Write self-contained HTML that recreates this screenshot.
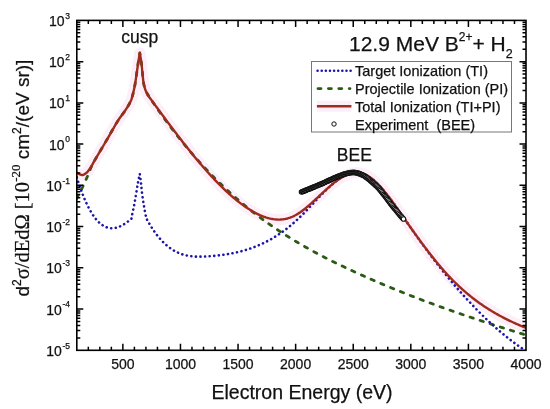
<!DOCTYPE html>
<html><head><meta charset="utf-8"><style>
html,body{margin:0;padding:0;background:#fff;}
body{width:550px;height:409px;overflow:hidden;}
svg{display:block;font-family:"Liberation Sans",sans-serif;will-change:transform;}
text{stroke:#111;stroke-width:0.25px;}
.tl text{font-size:14px;fill:#111;}
.tl .sup{font-size:8.5px;}
</style></head><body>
<svg width="550" height="409" viewBox="0 0 550 409">
<defs><clipPath id="pc"><rect x="76.8" y="20.4" width="449.2" height="329.90000000000003"/></clipPath></defs>
<g clip-path="url(#pc)" fill="none" stroke-linejoin="round">
<path d="M76.80 172.30 C77.08 172.55 77.80 173.37 78.50 173.80 C79.20 174.23 80.17 174.73 81.00 174.90 C81.83 175.07 82.67 175.07 83.50 174.80 C84.33 174.53 85.25 173.88 86.00 173.30 C86.75 172.72 87.17 172.35 88.00 171.30 C88.83 170.25 90.00 168.62 91.00 167.00 C92.00 165.38 92.75 163.80 94.00 161.60 C95.25 159.40 96.92 156.48 98.50 153.80 C100.08 151.12 101.92 148.17 103.50 145.50 C105.08 142.83 106.47 140.45 108.00 137.80 C109.53 135.15 111.03 132.47 112.70 129.60 C114.37 126.73 116.12 123.50 118.00 120.60 C119.88 117.70 122.25 114.75 124.00 112.20 C125.75 109.65 127.28 107.33 128.50 105.30 C129.72 103.27 130.83 100.88 131.30 100.00 L131.30 100.00 C131.62 98.83 132.57 95.67 133.20 93.00 C133.83 90.33 134.53 87.17 135.10 84.00 C135.67 80.83 136.10 77.42 136.60 74.00 C137.10 70.58 137.57 67.02 138.10 63.50 C138.63 59.98 139.52 54.67 139.80 52.90 L139.80 52.90 C140.05 54.43 140.87 58.85 141.30 62.10 C141.73 65.35 142.03 68.98 142.40 72.40 C142.77 75.82 143.03 79.78 143.50 82.60 C143.97 85.42 144.57 87.42 145.20 89.30 C145.83 91.18 146.95 93.13 147.30 93.90 L147.30 94.44 L148.30 95.81 L149.30 97.17 L150.30 98.53 L151.30 99.90 L152.30 101.26 L153.30 102.63 L154.30 103.99 L155.30 105.35 L156.30 106.72 L157.30 108.08 L158.30 109.44 L159.30 110.80 L160.30 112.16 L161.30 113.51 L162.30 114.87 L163.30 116.22 L164.30 117.57 L165.30 118.92 L166.30 120.27 L167.30 121.61 L168.30 122.95 L169.30 124.29 L170.30 125.63 L171.30 126.96 L172.30 128.29 L173.30 129.62 L174.30 130.94 L175.30 132.26 L176.30 133.58 L177.30 134.89 L178.30 136.20 L179.30 137.50 L180.30 138.80 L181.30 140.10 L182.30 141.39 L183.30 142.68 L184.30 143.96 L185.30 145.23 L186.30 146.50 L187.30 147.77 L188.30 149.03 L189.30 150.28 L190.30 151.53 L191.30 152.77 L192.30 154.01 L193.30 155.23 L194.30 156.46 L195.30 157.67 L196.30 158.88 L197.30 160.09 L198.30 161.28 L199.30 162.47 L200.30 163.65 L201.30 164.82 L202.30 165.99 L203.30 167.15 L204.30 168.30 L205.30 169.44 L206.30 170.57 L207.30 171.70 L208.30 172.81 L209.30 173.92 L210.30 175.02 L211.30 176.11 L212.30 177.19 L213.30 178.26 L214.30 179.32 L215.30 180.38 L216.30 181.42 L217.30 182.45 L218.30 183.47 L219.30 184.49 L220.30 185.49 L221.30 186.48 L222.30 187.46 L223.30 188.43 L224.30 189.39 L225.30 190.34 L226.30 191.27 L227.30 192.20 L228.30 193.11 L229.30 194.01 L230.30 194.90 L231.30 195.78 L232.30 196.64 L233.30 197.50 L234.30 198.34 L235.30 199.16 L236.30 199.98 L237.30 200.78 L238.30 201.57 L239.30 202.35 L240.30 203.11 L241.30 203.86 L242.30 204.59 L243.30 205.31 L244.30 206.02 L245.30 206.71 L246.30 207.39 L247.30 208.06 L248.30 208.71 L249.30 209.34 L250.30 209.96 L251.30 210.57 L252.30 211.16 L253.30 211.73 L254.30 212.29 L255.30 212.83 L256.30 213.36 L257.30 213.86 L258.30 214.35 L259.30 214.82 L260.30 215.27 L261.30 215.71 L262.30 216.12 L263.30 216.51 L264.30 216.88 L265.30 217.23 L266.30 217.56 L267.30 217.86 L268.30 218.14 L269.30 218.40 L270.30 218.64 L271.30 218.85 L272.30 219.03 L273.30 219.19 L274.30 219.33 L275.30 219.43 L276.30 219.51 L277.30 219.57 L278.30 219.59 L279.30 219.59 L280.30 219.56 L281.30 219.50 L282.30 219.41 L283.30 219.29 L284.30 219.13 L285.30 218.95 L286.30 218.73 L287.30 218.49 L288.30 218.21 L289.30 217.89 L290.30 217.55 L291.30 217.16 L292.30 216.75 L293.30 216.30 L294.30 215.81 L295.30 215.29 L296.30 214.73 L297.30 214.14 L298.30 213.52 L299.30 212.87 L300.30 212.20 L301.30 211.49 L302.30 210.76 L303.30 210.01 L304.30 209.23 L305.30 208.44 L306.30 207.62 L307.30 206.79 L308.30 205.94 L309.30 205.08 L310.30 204.20 L311.30 203.31 L312.30 202.40 L313.30 201.49 L314.30 200.58 L315.30 199.65 L316.30 198.72 L317.30 197.79 L318.30 196.85 L319.30 195.91 L320.30 194.98 L321.30 194.04 L322.30 193.11 L323.30 192.18 L324.30 191.26 L325.30 190.35 L326.30 189.44 L327.30 188.54 L328.30 187.66 L329.30 186.78 L330.30 185.92 L331.30 185.08 L332.30 184.25 L333.30 183.43 L334.30 182.64 L335.30 181.87 L336.30 181.12 L337.30 180.39 L338.30 179.68 L339.30 179.00 L340.30 178.35 L341.30 177.72 L342.30 177.13 L343.30 176.56 L344.30 176.03 L345.30 175.53 L346.30 175.06 L347.30 174.63 L348.30 174.24 L349.30 173.89 L350.30 173.57 L351.30 173.30 L352.30 173.07 L353.30 172.88 L354.30 172.74 L355.30 172.65 L356.30 172.60 L357.30 172.60 L358.30 172.65 L359.30 172.76 L360.30 172.91 L361.30 173.12 L362.30 173.39 L363.30 173.71 L364.30 174.09 L365.30 174.53 L366.30 175.01 L367.30 175.55 L368.30 176.14 L369.30 176.78 L370.30 177.46 L371.30 178.19 L372.30 178.96 L373.30 179.78 L374.30 180.64 L375.30 181.54 L376.30 182.47 L377.30 183.45 L378.30 184.46 L379.30 185.50 L380.30 186.58 L381.30 187.68 L382.30 188.82 L383.30 189.99 L384.30 191.18 L385.30 192.40 L386.30 193.65 L387.30 194.91 L388.30 196.20 L389.30 197.51 L390.30 198.83 L391.30 200.17 L392.30 201.53 L393.30 202.91 L394.30 204.29 L395.30 205.69 L396.30 207.09 L397.30 208.51 L398.30 209.93 L399.30 211.36 L400.30 212.79 L401.30 214.22 L402.30 215.66 L403.30 217.09 L404.30 218.53 L405.30 219.96 L406.30 221.39 L407.30 222.81 L408.30 224.23 L409.30 225.65 L410.30 227.07 L411.30 228.48 L412.30 229.89 L413.30 231.30 L414.30 232.70 L415.30 234.09 L416.30 235.48 L417.30 236.86 L418.30 238.24 L419.30 239.61 L420.30 240.98 L421.30 242.34 L422.30 243.69 L423.30 245.04 L424.30 246.37 L425.30 247.70 L426.30 249.03 L427.30 250.34 L428.30 251.65 L429.30 252.94 L430.30 254.23 L431.30 255.51 L432.30 256.78 L433.30 258.04 L434.30 259.29 L435.30 260.53 L436.30 261.76 L437.30 262.97 L438.30 264.18 L439.30 265.37 L440.30 266.56 L441.30 267.73 L442.30 268.89 L443.30 270.03 L444.30 271.17 L445.30 272.29 L446.30 273.39 L447.30 274.49 L448.30 275.57 L449.30 276.63 L450.30 277.69 L451.30 278.72 L452.30 279.75 L453.30 280.76 L454.30 281.76 L455.30 282.75 L456.30 283.73 L457.30 284.69 L458.30 285.64 L459.30 286.57 L460.30 287.50 L461.30 288.41 L462.30 289.31 L463.30 290.20 L464.30 291.08 L465.30 291.95 L466.30 292.80 L467.30 293.65 L468.30 294.48 L469.30 295.30 L470.30 296.11 L471.30 296.91 L472.30 297.70 L473.30 298.48 L474.30 299.25 L475.30 300.00 L476.30 300.75 L477.30 301.49 L478.30 302.22 L479.30 302.94 L480.30 303.65 L481.30 304.34 L482.30 305.03 L483.30 305.72 L484.30 306.39 L485.30 307.05 L486.30 307.70 L487.30 308.35 L488.30 308.98 L489.30 309.61 L490.30 310.23 L491.30 310.84 L492.30 311.45 L493.30 312.04 L494.30 312.63 L495.30 313.21 L496.30 313.78 L497.30 314.34 L498.30 314.90 L499.30 315.45 L500.30 315.99 L501.30 316.53 L502.30 317.06 L503.30 317.58 L504.30 318.10 L505.30 318.61 L506.30 319.11 L507.30 319.61 L508.30 320.10 L509.30 320.58 L510.30 321.06 L511.30 321.54 L512.30 322.01 L513.30 322.47 L514.30 322.92 L515.30 323.38 L516.30 323.82 L517.30 324.27 L518.30 324.70 L519.30 325.14 L520.30 325.56 L521.30 325.99 L522.30 326.41 L523.30 326.82 L524.30 327.23 L525.30 327.64 L526.00 327.93" stroke="#fdeff9" stroke-width="11"/>
<path d="M76.80 198.50 C77.17 197.75 78.13 195.70 79.00 194.00 C79.87 192.30 81.00 190.33 82.00 188.30 C83.00 186.27 84.08 183.82 85.00 181.80 C85.92 179.78 86.72 178.07 87.50 176.20 C88.28 174.33 88.98 172.33 89.70 170.60 C90.42 168.87 91.08 167.30 91.80 165.80 C92.52 164.30 92.88 163.60 94.00 161.60 C95.12 159.60 96.92 156.48 98.50 153.80 C100.08 151.12 101.92 148.17 103.50 145.50 C105.08 142.83 106.47 140.45 108.00 137.80 C109.53 135.15 111.03 132.47 112.70 129.60 C114.37 126.73 116.12 123.50 118.00 120.60 C119.88 117.70 122.25 114.75 124.00 112.20 C125.75 109.65 127.28 107.33 128.50 105.30 C129.72 103.27 130.83 100.88 131.30 100.00 L131.30 100.00 C131.62 98.83 132.57 95.67 133.20 93.00 C133.83 90.33 134.53 87.17 135.10 84.00 C135.67 80.83 136.10 77.42 136.60 74.00 C137.10 70.58 137.57 67.02 138.10 63.50 C138.63 59.98 139.52 54.67 139.80 52.90 L139.80 52.90 C140.05 54.43 140.87 58.85 141.30 62.10 C141.73 65.35 142.03 68.98 142.40 72.40 C142.77 75.82 143.03 79.78 143.50 82.60 C143.97 85.42 144.57 87.42 145.20 89.30 C145.83 91.18 146.95 93.13 147.30 93.90 L147.30 93.85 L148.30 95.37 L149.30 96.89 L150.30 98.39 L151.30 99.88 L152.30 101.37 L153.30 102.84 L154.30 104.31 L155.30 105.77 L156.30 107.22 L157.30 108.66 L158.30 110.09 L159.30 111.52 L160.30 112.93 L161.30 114.34 L162.30 115.74 L163.30 117.13 L164.30 118.51 L165.30 119.88 L166.30 121.25 L167.30 122.61 L168.30 123.96 L169.30 125.30 L170.30 126.63 L171.30 127.95 L172.30 129.27 L173.30 130.57 L174.30 131.87 L175.30 133.17 L176.30 134.45 L177.30 135.72 L178.30 136.99 L179.30 138.25 L180.30 139.50 L181.30 140.75 L182.30 141.99 L183.30 143.21 L184.30 144.44 L185.30 145.65 L186.30 146.86 L187.30 148.05 L188.30 149.24 L189.30 150.43 L190.30 151.60 L191.30 152.77 L192.30 153.93 L193.30 155.09 L194.30 156.23 L195.30 157.37 L196.30 158.51 L197.30 159.63 L198.30 160.75 L199.30 161.86 L200.30 162.96 L201.30 164.06 L202.30 165.15 L203.30 166.23 L204.30 167.31 L205.30 168.38 L206.30 169.44 L207.30 170.49 L208.30 171.54 L209.30 172.58 L210.30 173.62 L211.30 174.65 L212.30 175.67 L213.30 176.68 L214.30 177.69 L215.30 178.69 L216.30 179.69 L217.30 180.68 L218.30 181.66 L219.30 182.64 L220.30 183.61 L221.30 184.57 L222.30 185.53 L223.30 186.48 L224.30 187.43 L225.30 188.37 L226.30 189.30 L227.30 190.22 L228.30 191.15 L229.30 192.06 L230.30 192.97 L231.30 193.87 L232.30 194.77 L233.30 195.66 L234.30 196.55 L235.30 197.43 L236.30 198.30 L237.30 199.17 L238.30 200.03 L239.30 200.89 L240.30 201.74 L241.30 202.59 L242.30 203.43 L243.30 204.26 L244.30 205.09 L245.30 205.91 L246.30 206.73 L247.30 207.55 L248.30 208.36 L249.30 209.16 L250.30 209.96 L251.30 210.75 L252.30 211.54 L253.30 212.32 L254.30 213.10 L255.30 213.87 L256.30 214.64 L257.30 215.40 L258.30 216.16 L259.30 216.91 L260.30 217.66 L261.30 218.40 L262.30 219.14 L263.30 219.87 L264.30 220.60 L265.30 221.32 L266.30 222.04 L267.30 222.76 L268.30 223.47 L269.30 224.18 L270.30 224.88 L271.30 225.57 L272.30 226.27 L273.30 226.96 L274.30 227.64 L275.30 228.32 L276.30 229.00 L277.30 229.67 L278.30 230.33 L279.30 231.00 L280.30 231.66 L281.30 232.31 L282.30 232.96 L283.30 233.61 L284.30 234.25 L285.30 234.89 L286.30 235.53 L287.30 236.16 L288.30 236.79 L289.30 237.41 L290.30 238.03 L291.30 238.65 L292.30 239.26 L293.30 239.87 L294.30 240.48 L295.30 241.08 L296.30 241.68 L297.30 242.27 L298.30 242.87 L299.30 243.45 L300.30 244.04 L301.30 244.62 L302.30 245.20 L303.30 245.78 L304.30 246.35 L305.30 246.92 L306.30 247.48 L307.30 248.05 L308.30 248.61 L309.30 249.16 L310.30 249.72 L311.30 250.27 L312.30 250.82 L313.30 251.36 L314.30 251.91 L315.30 252.45 L316.30 252.98 L317.30 253.52 L318.30 254.05 L319.30 254.58 L320.30 255.10 L321.30 255.63 L322.30 256.15 L323.30 256.67 L324.30 257.19 L325.30 257.70 L326.30 258.21 L327.30 258.72 L328.30 259.23 L329.30 259.73 L330.30 260.24 L331.30 260.74 L332.30 261.24 L333.30 261.73 L334.30 262.23 L335.30 262.72 L336.30 263.21 L337.30 263.70 L338.30 264.18 L339.30 264.67 L340.30 265.15 L341.30 265.63 L342.30 266.11 L343.30 266.59 L344.30 267.06 L345.30 267.54 L346.30 268.01 L347.30 268.48 L348.30 268.95 L349.30 269.42 L350.30 269.89 L351.30 270.35 L352.30 270.81 L353.30 271.28 L354.30 271.74 L355.30 272.20 L356.30 272.65 L357.30 273.11 L358.30 273.57 L359.30 274.02 L360.30 274.47 L361.30 274.92 L362.30 275.37 L363.30 275.82 L364.30 276.27 L365.30 276.71 L366.30 277.16 L367.30 277.60 L368.30 278.04 L369.30 278.48 L370.30 278.92 L371.30 279.36 L372.30 279.79 L373.30 280.23 L374.30 280.66 L375.30 281.09 L376.30 281.53 L377.30 281.96 L378.30 282.38 L379.30 282.81 L380.30 283.24 L381.30 283.66 L382.30 284.09 L383.30 284.51 L384.30 284.93 L385.30 285.35 L386.30 285.77 L387.30 286.18 L388.30 286.60 L389.30 287.02 L390.30 287.43 L391.30 287.84 L392.30 288.25 L393.30 288.66 L394.30 289.07 L395.30 289.48 L396.30 289.89 L397.30 290.29 L398.30 290.70 L399.30 291.10 L400.30 291.50 L401.30 291.90 L402.30 292.30 L403.30 292.70 L404.30 293.10 L405.30 293.49 L406.30 293.89 L407.30 294.28 L408.30 294.68 L409.30 295.07 L410.30 295.46 L411.30 295.85 L412.30 296.24 L413.30 296.63 L414.30 297.01 L415.30 297.40 L416.30 297.78 L417.30 298.17 L418.30 298.55 L419.30 298.93 L420.30 299.31 L421.30 299.69 L422.30 300.07 L423.30 300.45 L424.30 300.82 L425.30 301.20 L426.30 301.57 L427.30 301.95 L428.30 302.32 L429.30 302.69 L430.30 303.06 L431.30 303.43 L432.30 303.80 L433.30 304.17 L434.30 304.54 L435.30 304.90 L436.30 305.27 L437.30 305.63 L438.30 306.00 L439.30 306.36 L440.30 306.72 L441.30 307.08 L442.30 307.44 L443.30 307.80 L444.30 308.16 L445.30 308.51 L446.30 308.87 L447.30 309.23 L448.30 309.58 L449.30 309.93 L450.30 310.29 L451.30 310.64 L452.30 310.99 L453.30 311.34 L454.30 311.69 L455.30 312.04 L456.30 312.39 L457.30 312.73 L458.30 313.08 L459.30 313.43 L460.30 313.77 L461.30 314.11 L462.30 314.46 L463.30 314.80 L464.30 315.14 L465.30 315.48 L466.30 315.82 L467.30 316.16 L468.30 316.50 L469.30 316.84 L470.30 317.18 L471.30 317.51 L472.30 317.85 L473.30 318.19 L474.30 318.52 L475.30 318.85 L476.30 319.19 L477.30 319.52 L478.30 319.85 L479.30 320.18 L480.30 320.51 L481.30 320.84 L482.30 321.17 L483.30 321.50 L484.30 321.83 L485.30 322.16 L486.30 322.48 L487.30 322.81 L488.30 323.14 L489.30 323.46 L490.30 323.78 L491.30 324.11 L492.30 324.43 L493.30 324.75 L494.30 325.08 L495.30 325.40 L496.30 325.72 L497.30 326.04 L498.30 326.36 L499.30 326.68 L500.30 327.00 L501.30 327.32 L502.30 327.63 L503.30 327.95 L504.30 328.27 L505.30 328.58 L506.30 328.90 L507.30 329.22 L508.30 329.53 L509.30 329.84 L510.30 330.16 L511.30 330.47 L512.30 330.78 L513.30 331.10 L514.30 331.41 L515.30 331.72 L516.30 332.03 L517.30 332.34 L518.30 332.65 L519.30 332.96 L520.30 333.27 L521.30 333.58 L522.30 333.89 L523.30 334.20 L524.30 334.51 L525.30 334.81 L526.00 335.03" stroke="#2b5a14" stroke-width="2.8" stroke-dasharray="3.4 7.2" stroke-linecap="round"/>
<path d="M76.80 177.38 L77.80 180.56 L78.80 183.63 L79.80 186.57 L80.80 189.40 L81.80 192.11 L82.80 194.71 L83.80 197.20 L84.80 199.57 L85.80 201.84 L86.80 204.00 L87.80 206.05 L88.80 208.00 L89.80 209.85 L90.80 211.60 L91.80 213.25 L92.80 214.80 L93.80 216.26 L94.80 217.63 L95.80 218.90 L96.80 220.08 L97.80 221.18 L98.80 222.19 L99.80 223.11 L100.80 223.96 L101.80 224.72 L102.80 225.40 L103.80 226.00 L104.80 226.53 L105.80 226.98 L106.80 227.36 L107.80 227.67 L108.80 227.91 L109.80 228.09 L110.80 228.20 L111.80 228.24 L112.80 228.22 L113.80 228.14 L114.80 228.00 L115.80 227.81 L116.80 227.56 L117.80 227.25 L118.80 226.90 L119.80 226.49 L120.80 226.04 L121.80 225.54 L122.80 224.99 L123.80 224.40 L124.80 223.77 L125.80 223.10 L126.80 222.39 L127.80 221.64 L128.80 220.86 L129.80 220.04 L130.80 219.20 L131.50 218.59 L131.50 217.60 C131.92 215.67 133.23 209.93 134.00 206.00 C134.77 202.07 135.43 197.96 136.10 194.05 C136.77 190.13 137.38 185.87 138.00 182.52 C138.62 179.17 139.50 175.37 139.80 173.94 L139.80 173.94 C140.00 175.45 140.60 179.60 141.00 183.00 C141.40 186.40 141.70 190.51 142.20 194.37 C142.70 198.23 143.38 202.47 144.00 206.17 C144.62 209.87 145.58 214.84 145.90 216.57 L145.90 217.56 L146.90 219.42 L147.90 221.22 L148.90 222.96 L149.90 224.65 L150.90 226.29 L151.90 227.86 L152.90 229.39 L153.90 230.86 L154.90 232.28 L155.90 233.64 L156.90 234.96 L157.90 236.23 L158.90 237.45 L159.90 238.62 L160.90 239.74 L161.90 240.82 L162.90 241.86 L163.90 242.85 L164.90 243.79 L165.90 244.70 L166.90 245.56 L167.90 246.38 L168.90 247.17 L169.90 247.91 L170.90 248.62 L171.90 249.29 L172.90 249.92 L173.90 250.52 L174.90 251.08 L175.90 251.61 L176.90 252.11 L177.90 252.58 L178.90 253.01 L179.90 253.42 L180.90 253.80 L181.90 254.15 L182.90 254.47 L183.90 254.77 L184.90 255.04 L185.90 255.28 L186.90 255.51 L187.90 255.71 L188.90 255.89 L189.90 256.04 L190.90 256.18 L191.90 256.30 L192.90 256.40 L193.90 256.48 L194.90 256.55 L195.90 256.60 L196.90 256.64 L197.90 256.66 L198.90 256.67 L199.90 256.67 L200.90 256.66 L201.90 256.64 L202.90 256.61 L203.90 256.57 L204.90 256.52 L205.90 256.47 L206.90 256.41 L207.90 256.34 L208.90 256.27 L209.90 256.20 L210.90 256.13 L211.90 256.05 L212.90 255.96 L213.90 255.87 L214.90 255.78 L215.90 255.68 L216.90 255.58 L217.90 255.47 L218.90 255.36 L219.90 255.24 L220.90 255.12 L221.90 254.99 L222.90 254.85 L223.90 254.71 L224.90 254.57 L225.90 254.41 L226.90 254.26 L227.90 254.09 L228.90 253.92 L229.90 253.74 L230.90 253.56 L231.90 253.37 L232.90 253.17 L233.90 252.97 L234.90 252.75 L235.90 252.53 L236.90 252.31 L237.90 252.07 L238.90 251.83 L239.90 251.58 L240.90 251.32 L241.90 251.06 L242.90 250.78 L243.90 250.50 L244.90 250.21 L245.90 249.91 L246.90 249.60 L247.90 249.28 L248.90 248.95 L249.90 248.62 L250.90 248.27 L251.90 247.92 L252.90 247.55 L253.90 247.18 L254.90 246.79 L255.90 246.40 L256.90 246.00 L257.90 245.58 L258.90 245.16 L259.90 244.72 L260.90 244.28 L261.90 243.82 L262.90 243.35 L263.90 242.87 L264.90 242.38 L265.90 241.88 L266.90 241.37 L267.90 240.85 L268.90 240.31 L269.90 239.76 L270.90 239.20 L271.90 238.63 L272.90 238.05 L273.90 237.45 L274.90 236.84 L275.90 236.22 L276.90 235.58 L277.90 234.94 L278.90 234.28 L279.90 233.60 L280.90 232.92 L281.90 232.22 L282.90 231.50 L283.90 230.77 L284.90 230.03 L285.90 229.28 L286.90 228.51 L287.90 227.72 L288.90 226.93 L289.90 226.11 L290.90 225.29 L291.90 224.44 L292.90 223.59 L293.90 222.71 L294.90 221.83 L295.90 220.92 L296.90 220.01 L297.90 219.07 L298.90 218.12 L299.90 217.16 L300.90 216.18 L301.90 215.19 L302.90 214.19 L303.90 213.17 L304.90 212.15 L305.90 211.11 L306.90 210.07 L307.90 209.03 L308.90 207.98 L309.90 206.92 L310.90 205.86 L311.90 204.80 L312.90 203.73 L313.90 202.67 L314.90 201.60 L315.90 200.54 L316.90 199.48 L317.90 198.43 L318.90 197.38 L319.90 196.34 L320.90 195.30 L321.90 194.27 L322.90 193.26 L323.90 192.25 L324.90 191.25 L325.90 190.27 L326.90 189.30 L327.90 188.35 L328.90 187.41 L329.90 186.49 L330.90 185.59 L331.90 184.70 L332.90 183.84 L333.90 183.00 L334.90 182.19 L335.90 181.39 L336.90 180.63 L337.90 179.89 L338.90 179.18 L339.90 178.50 L340.90 177.85 L341.90 177.23 L342.90 176.64 L343.90 176.09 L344.90 175.57 L345.90 175.09 L346.90 174.64 L347.90 174.24 L348.90 173.87 L349.90 173.55 L350.90 173.26 L351.90 173.02 L352.90 172.83 L353.90 172.68 L354.90 172.58 L355.90 172.53 L356.90 172.52 L357.90 172.57 L358.90 172.66 L359.90 172.81 L360.90 173.02 L361.90 173.28 L362.90 173.59 L363.90 173.96 L364.90 174.39 L365.90 174.87 L366.90 175.40 L367.90 175.98 L368.90 176.61 L369.90 177.29 L370.90 178.01 L371.90 178.78 L372.90 179.59 L373.90 180.44 L374.90 181.33 L375.90 182.26 L376.90 183.22 L377.90 184.22 L378.90 185.25 L379.90 186.32 L380.90 187.41 L381.90 188.54 L382.90 189.69 L383.90 190.87 L384.90 192.07 L385.90 193.30 L386.90 194.54 L387.90 195.81 L388.90 197.10 L389.90 198.40 L390.90 199.72 L391.90 201.06 L392.90 202.41 L393.90 203.77 L394.90 205.15 L395.90 206.54 L396.90 207.94 L397.90 209.35 L398.90 210.76 L399.90 212.19 L400.90 213.62 L401.90 215.06 L402.90 216.50 L403.90 217.94 L404.90 219.39 L405.90 220.83 L406.90 222.28 L407.90 223.73 L408.90 225.17 L409.90 226.62 L410.90 228.05 L411.90 229.49 L412.90 230.91 L413.90 232.34 L414.90 233.75 L415.90 235.16 L416.90 236.57 L417.90 237.97 L418.90 239.36 L419.90 240.75 L420.90 242.13 L421.90 243.51 L422.90 244.88 L423.90 246.24 L424.90 247.60 L425.90 248.95 L426.90 250.30 L427.90 251.64 L428.90 252.98 L429.90 254.31 L430.90 255.63 L431.90 256.95 L432.90 258.26 L433.90 259.56 L434.90 260.86 L435.90 262.16 L436.90 263.44 L437.90 264.73 L438.90 266.00 L439.90 267.27 L440.90 268.53 L441.90 269.79 L442.90 271.04 L443.90 272.29 L444.90 273.52 L445.90 274.76 L446.90 275.98 L447.90 277.20 L448.90 278.42 L449.90 279.62 L450.90 280.82 L451.90 282.02 L452.90 283.21 L453.90 284.39 L454.90 285.56 L455.90 286.73 L456.90 287.89 L457.90 289.05 L458.90 290.20 L459.90 291.34 L460.90 292.48 L461.90 293.61 L462.90 294.73 L463.90 295.84 L464.90 296.95 L465.90 298.06 L466.90 299.15 L467.90 300.24 L468.90 301.32 L469.90 302.40 L470.90 303.47 L471.90 304.53 L472.90 305.58 L473.90 306.63 L474.90 307.67 L475.90 308.71 L476.90 309.73 L477.90 310.75 L478.90 311.76 L479.90 312.77 L480.90 313.77 L481.90 314.76 L482.90 315.74 L483.90 316.72 L484.90 317.69 L485.90 318.65 L486.90 319.61 L487.90 320.56 L488.90 321.50 L489.90 322.43 L490.90 323.35 L491.90 324.27 L492.90 325.18 L493.90 326.09 L494.90 326.98 L495.90 327.87 L496.90 328.75 L497.90 329.62 L498.90 330.49 L499.90 331.35 L500.90 332.20 L501.90 333.04 L502.90 333.88 L503.90 334.70 L504.90 335.52 L505.90 336.33 L506.90 337.14 L507.90 337.93 L508.90 338.72 L509.90 339.50 L510.90 340.27 L511.90 341.04 L512.90 341.79 L513.90 342.54 L514.90 343.28 L515.90 344.02 L516.90 344.74 L517.90 345.46 L518.90 346.16 L519.90 346.86 L520.90 347.55 L521.90 348.24 L522.90 348.91 L523.90 349.58 L524.90 350.24 L525.90 350.89 L526.00 350.95" stroke="#1c16a8" stroke-width="2.6" stroke-dasharray="0.1 4.5" stroke-linecap="round"/>
<path d="M76.80 172.30 C77.08 172.55 77.80 173.37 78.50 173.80 C79.20 174.23 80.17 174.73 81.00 174.90 C81.83 175.07 82.67 175.07 83.50 174.80 C84.33 174.53 85.25 173.88 86.00 173.30 C86.75 172.72 87.17 172.35 88.00 171.30 C88.83 170.25 90.00 168.62 91.00 167.00 C92.00 165.38 92.75 163.80 94.00 161.60 C95.25 159.40 96.92 156.48 98.50 153.80 C100.08 151.12 101.92 148.17 103.50 145.50 C105.08 142.83 106.47 140.45 108.00 137.80 C109.53 135.15 111.03 132.47 112.70 129.60 C114.37 126.73 116.12 123.50 118.00 120.60 C119.88 117.70 122.25 114.75 124.00 112.20 C125.75 109.65 127.28 107.33 128.50 105.30 C129.72 103.27 130.83 100.88 131.30 100.00 L131.30 100.00 C131.62 98.83 132.57 95.67 133.20 93.00 C133.83 90.33 134.53 87.17 135.10 84.00 C135.67 80.83 136.10 77.42 136.60 74.00 C137.10 70.58 137.57 67.02 138.10 63.50 C138.63 59.98 139.52 54.67 139.80 52.90 L139.80 52.90 C140.05 54.43 140.87 58.85 141.30 62.10 C141.73 65.35 142.03 68.98 142.40 72.40 C142.77 75.82 143.03 79.78 143.50 82.60 C143.97 85.42 144.57 87.42 145.20 89.30 C145.83 91.18 146.95 93.13 147.30 93.90 L147.30 94.44 L148.30 95.81 L149.30 97.17 L150.30 98.53 L151.30 99.90 L152.30 101.26 L153.30 102.63 L154.30 103.99 L155.30 105.35 L156.30 106.72 L157.30 108.08 L158.30 109.44 L159.30 110.80 L160.30 112.16 L161.30 113.51 L162.30 114.87 L163.30 116.22 L164.30 117.57 L165.30 118.92 L166.30 120.27 L167.30 121.61 L168.30 122.95 L169.30 124.29 L170.30 125.63 L171.30 126.96 L172.30 128.29 L173.30 129.62 L174.30 130.94 L175.30 132.26 L176.30 133.58 L177.30 134.89 L178.30 136.20 L179.30 137.50 L180.30 138.80 L181.30 140.10 L182.30 141.39 L183.30 142.68 L184.30 143.96 L185.30 145.23 L186.30 146.50 L187.30 147.77 L188.30 149.03 L189.30 150.28 L190.30 151.53 L191.30 152.77 L192.30 154.01 L193.30 155.23 L194.30 156.46 L195.30 157.67 L196.30 158.88 L197.30 160.09 L198.30 161.28 L199.30 162.47 L200.30 163.65 L201.30 164.82 L202.30 165.99 L203.30 167.15 L204.30 168.30 L205.30 169.44 L206.30 170.57 L207.30 171.70 L208.30 172.81 L209.30 173.92 L210.30 175.02 L211.30 176.11 L212.30 177.19 L213.30 178.26 L214.30 179.32 L215.30 180.38 L216.30 181.42 L217.30 182.45 L218.30 183.47 L219.30 184.49 L220.30 185.49 L221.30 186.48 L222.30 187.46 L223.30 188.43 L224.30 189.39 L225.30 190.34 L226.30 191.27 L227.30 192.20 L228.30 193.11 L229.30 194.01 L230.30 194.90 L231.30 195.78 L232.30 196.64 L233.30 197.50 L234.30 198.34 L235.30 199.16 L236.30 199.98 L237.30 200.78 L238.30 201.57 L239.30 202.35 L240.30 203.11 L241.30 203.86 L242.30 204.59 L243.30 205.31 L244.30 206.02 L245.30 206.71 L246.30 207.39 L247.30 208.06 L248.30 208.71 L249.30 209.34 L250.30 209.96 L251.30 210.57 L252.30 211.16 L253.30 211.73 L254.30 212.29 L255.30 212.83 L256.30 213.36 L257.30 213.86 L258.30 214.35 L259.30 214.82 L260.30 215.27 L261.30 215.71 L262.30 216.12 L263.30 216.51 L264.30 216.88 L265.30 217.23 L266.30 217.56 L267.30 217.86 L268.30 218.14 L269.30 218.40 L270.30 218.64 L271.30 218.85 L272.30 219.03 L273.30 219.19 L274.30 219.33 L275.30 219.43 L276.30 219.51 L277.30 219.57 L278.30 219.59 L279.30 219.59 L280.30 219.56 L281.30 219.50 L282.30 219.41 L283.30 219.29 L284.30 219.13 L285.30 218.95 L286.30 218.73 L287.30 218.49 L288.30 218.21 L289.30 217.89 L290.30 217.55 L291.30 217.16 L292.30 216.75 L293.30 216.30 L294.30 215.81 L295.30 215.29 L296.30 214.73 L297.30 214.14 L298.30 213.52 L299.30 212.87 L300.30 212.20 L301.30 211.49 L302.30 210.76 L303.30 210.01 L304.30 209.23 L305.30 208.44 L306.30 207.62 L307.30 206.79 L308.30 205.94 L309.30 205.08 L310.30 204.20 L311.30 203.31 L312.30 202.40 L313.30 201.49 L314.30 200.58 L315.30 199.65 L316.30 198.72 L317.30 197.79 L318.30 196.85 L319.30 195.91 L320.30 194.98 L321.30 194.04 L322.30 193.11 L323.30 192.18 L324.30 191.26 L325.30 190.35 L326.30 189.44 L327.30 188.54 L328.30 187.66 L329.30 186.78 L330.30 185.92 L331.30 185.08 L332.30 184.25 L333.30 183.43 L334.30 182.64 L335.30 181.87 L336.30 181.12 L337.30 180.39 L338.30 179.68 L339.30 179.00 L340.30 178.35 L341.30 177.72 L342.30 177.13 L343.30 176.56 L344.30 176.03 L345.30 175.53 L346.30 175.06 L347.30 174.63 L348.30 174.24 L349.30 173.89 L350.30 173.57 L351.30 173.30 L352.30 173.07 L353.30 172.88 L354.30 172.74 L355.30 172.65 L356.30 172.60 L357.30 172.60 L358.30 172.65 L359.30 172.76 L360.30 172.91 L361.30 173.12 L362.30 173.39 L363.30 173.71 L364.30 174.09 L365.30 174.53 L366.30 175.01 L367.30 175.55 L368.30 176.14 L369.30 176.78 L370.30 177.46 L371.30 178.19 L372.30 178.96 L373.30 179.78 L374.30 180.64 L375.30 181.54 L376.30 182.47 L377.30 183.45 L378.30 184.46 L379.30 185.50 L380.30 186.58 L381.30 187.68 L382.30 188.82 L383.30 189.99 L384.30 191.18 L385.30 192.40 L386.30 193.65 L387.30 194.91 L388.30 196.20 L389.30 197.51 L390.30 198.83 L391.30 200.17 L392.30 201.53 L393.30 202.91 L394.30 204.29 L395.30 205.69 L396.30 207.09 L397.30 208.51 L398.30 209.93 L399.30 211.36 L400.30 212.79 L401.30 214.22 L402.30 215.66 L403.30 217.09 L404.30 218.53 L405.30 219.96 L406.30 221.39 L407.30 222.81 L408.30 224.23 L409.30 225.65 L410.30 227.07 L411.30 228.48 L412.30 229.89 L413.30 231.30 L414.30 232.70 L415.30 234.09 L416.30 235.48 L417.30 236.86 L418.30 238.24 L419.30 239.61 L420.30 240.98 L421.30 242.34 L422.30 243.69 L423.30 245.04 L424.30 246.37 L425.30 247.70 L426.30 249.03 L427.30 250.34 L428.30 251.65 L429.30 252.94 L430.30 254.23 L431.30 255.51 L432.30 256.78 L433.30 258.04 L434.30 259.29 L435.30 260.53 L436.30 261.76 L437.30 262.97 L438.30 264.18 L439.30 265.37 L440.30 266.56 L441.30 267.73 L442.30 268.89 L443.30 270.03 L444.30 271.17 L445.30 272.29 L446.30 273.39 L447.30 274.49 L448.30 275.57 L449.30 276.63 L450.30 277.69 L451.30 278.72 L452.30 279.75 L453.30 280.76 L454.30 281.76 L455.30 282.75 L456.30 283.73 L457.30 284.69 L458.30 285.64 L459.30 286.57 L460.30 287.50 L461.30 288.41 L462.30 289.31 L463.30 290.20 L464.30 291.08 L465.30 291.95 L466.30 292.80 L467.30 293.65 L468.30 294.48 L469.30 295.30 L470.30 296.11 L471.30 296.91 L472.30 297.70 L473.30 298.48 L474.30 299.25 L475.30 300.00 L476.30 300.75 L477.30 301.49 L478.30 302.22 L479.30 302.94 L480.30 303.65 L481.30 304.34 L482.30 305.03 L483.30 305.72 L484.30 306.39 L485.30 307.05 L486.30 307.70 L487.30 308.35 L488.30 308.98 L489.30 309.61 L490.30 310.23 L491.30 310.84 L492.30 311.45 L493.30 312.04 L494.30 312.63 L495.30 313.21 L496.30 313.78 L497.30 314.34 L498.30 314.90 L499.30 315.45 L500.30 315.99 L501.30 316.53 L502.30 317.06 L503.30 317.58 L504.30 318.10 L505.30 318.61 L506.30 319.11 L507.30 319.61 L508.30 320.10 L509.30 320.58 L510.30 321.06 L511.30 321.54 L512.30 322.01 L513.30 322.47 L514.30 322.92 L515.30 323.38 L516.30 323.82 L517.30 324.27 L518.30 324.70 L519.30 325.14 L520.30 325.56 L521.30 325.99 L522.30 326.41 L523.30 326.82 L524.30 327.23 L525.30 327.64 L526.00 327.93" stroke="#9e2c1c" stroke-width="2.4"/>
<g fill="#fff" stroke="#111" stroke-width="1.1"><circle cx="301.50" cy="192.00" r="2.25"/><circle cx="302.50" cy="191.60" r="2.25"/><circle cx="303.50" cy="191.20" r="2.25"/><circle cx="304.50" cy="190.80" r="2.25"/><circle cx="305.50" cy="190.41" r="2.25"/><circle cx="306.50" cy="190.01" r="2.25"/><circle cx="307.50" cy="189.61" r="2.25"/><circle cx="308.50" cy="189.20" r="2.25"/><circle cx="309.50" cy="188.80" r="2.25"/><circle cx="310.50" cy="188.39" r="2.25"/><circle cx="311.50" cy="187.99" r="2.25"/><circle cx="312.50" cy="187.58" r="2.25"/><circle cx="313.50" cy="187.17" r="2.25"/><circle cx="314.50" cy="186.76" r="2.25"/><circle cx="315.50" cy="186.34" r="2.25"/><circle cx="316.50" cy="185.93" r="2.25"/><circle cx="317.50" cy="185.51" r="2.25"/><circle cx="318.50" cy="185.09" r="2.25"/><circle cx="319.50" cy="184.67" r="2.25"/><circle cx="320.50" cy="184.25" r="2.25"/><circle cx="321.50" cy="183.83" r="2.25"/><circle cx="322.50" cy="183.40" r="2.25"/><circle cx="323.50" cy="182.96" r="2.25"/><circle cx="324.50" cy="182.52" r="2.25"/><circle cx="325.50" cy="182.06" r="2.25"/><circle cx="326.50" cy="181.59" r="2.25"/><circle cx="327.50" cy="181.12" r="2.25"/><circle cx="328.50" cy="180.65" r="2.25"/><circle cx="329.50" cy="180.17" r="2.25"/><circle cx="330.50" cy="179.71" r="2.25"/><circle cx="331.50" cy="179.26" r="2.25"/><circle cx="332.50" cy="178.81" r="2.25"/><circle cx="333.50" cy="178.36" r="2.25"/><circle cx="334.50" cy="177.92" r="2.25"/><circle cx="335.50" cy="177.48" r="2.25"/><circle cx="336.50" cy="177.06" r="2.25"/><circle cx="337.50" cy="176.64" r="2.25"/><circle cx="338.50" cy="176.24" r="2.25"/><circle cx="339.50" cy="175.84" r="2.25"/><circle cx="340.50" cy="175.45" r="2.25"/><circle cx="341.50" cy="175.06" r="2.25"/><circle cx="342.50" cy="174.69" r="2.25"/><circle cx="343.50" cy="174.33" r="2.25"/><circle cx="344.50" cy="174.01" r="2.25"/><circle cx="345.50" cy="173.71" r="2.25"/><circle cx="346.50" cy="173.45" r="2.25"/><circle cx="347.50" cy="173.21" r="2.25"/><circle cx="348.50" cy="172.99" r="2.25"/><circle cx="349.50" cy="172.80" r="2.25"/><circle cx="350.50" cy="172.63" r="2.25"/><circle cx="351.50" cy="172.50" r="2.25"/><circle cx="352.50" cy="172.43" r="2.25"/><circle cx="353.50" cy="172.41" r="2.25"/><circle cx="354.50" cy="172.46" r="2.25"/><circle cx="355.50" cy="172.59" r="2.25"/><circle cx="356.50" cy="172.80" r="2.25"/><circle cx="357.50" cy="173.06" r="2.25"/><circle cx="358.50" cy="173.35" r="2.25"/><circle cx="359.50" cy="173.66" r="2.25"/><circle cx="360.50" cy="174.03" r="2.25"/><circle cx="361.50" cy="174.44" r="2.25"/><circle cx="362.50" cy="174.91" r="2.25"/><circle cx="363.50" cy="175.43" r="2.25"/><circle cx="364.50" cy="175.99" r="2.25"/><circle cx="365.50" cy="176.66" r="2.25"/><circle cx="366.50" cy="177.43" r="2.25"/><circle cx="367.50" cy="178.24" r="2.25"/><circle cx="368.50" cy="179.05" r="2.25"/><circle cx="369.50" cy="179.87" r="2.25"/><circle cx="370.50" cy="180.70" r="2.25"/><circle cx="371.50" cy="181.55" r="2.25"/><circle cx="372.50" cy="182.41" r="2.25"/><circle cx="373.50" cy="183.30" r="2.25"/><circle cx="374.50" cy="184.21" r="2.25"/><circle cx="375.50" cy="185.13" r="2.25"/><circle cx="376.50" cy="186.07" r="2.25"/><circle cx="377.50" cy="187.04" r="2.25"/><circle cx="378.50" cy="188.07" r="2.25"/><circle cx="379.50" cy="189.17" r="2.25"/><circle cx="380.50" cy="190.39" r="2.25"/><circle cx="381.50" cy="191.71" r="2.25"/><circle cx="382.50" cy="193.05" r="2.25"/><circle cx="383.50" cy="194.33" r="2.25"/><circle cx="384.50" cy="195.59" r="2.25"/><circle cx="385.50" cy="196.85" r="2.25"/><circle cx="386.50" cy="198.12" r="2.25"/><circle cx="387.50" cy="199.40" r="2.25"/><circle cx="388.50" cy="200.72" r="2.25"/><circle cx="389.50" cy="202.06" r="2.25"/><circle cx="390.50" cy="203.40" r="2.25"/><circle cx="391.50" cy="204.71" r="2.25"/><circle cx="392.50" cy="205.98" r="2.25"/><circle cx="393.50" cy="207.20" r="2.25"/><circle cx="394.50" cy="208.40" r="2.25"/><circle cx="395.50" cy="209.60" r="2.25"/><circle cx="396.50" cy="210.82" r="2.25"/><circle cx="397.50" cy="212.05" r="2.25"/><circle cx="398.50" cy="213.28" r="2.25"/><circle cx="399.50" cy="214.51" r="2.25"/><circle cx="400.50" cy="215.72" r="2.25"/><circle cx="401.50" cy="216.86" r="2.25"/><circle cx="402.50" cy="217.93" r="2.25"/><circle cx="403.50" cy="218.99" r="2.25"/></g>
</g>
<path d="M88.32 350.30 v-3.50 M88.32 20.40 v3.50 M99.84 350.30 v-3.50 M99.84 20.40 v3.50 M111.35 350.30 v-3.50 M111.35 20.40 v3.50 M122.87 350.30 v-6.50 M122.87 20.40 v6.50 M134.39 350.30 v-3.50 M134.39 20.40 v3.50 M145.91 350.30 v-3.50 M145.91 20.40 v3.50 M157.43 350.30 v-3.50 M157.43 20.40 v3.50 M168.94 350.30 v-3.50 M168.94 20.40 v3.50 M180.46 350.30 v-6.50 M180.46 20.40 v6.50 M191.98 350.30 v-3.50 M191.98 20.40 v3.50 M203.50 350.30 v-3.50 M203.50 20.40 v3.50 M215.02 350.30 v-3.50 M215.02 20.40 v3.50 M226.53 350.30 v-3.50 M226.53 20.40 v3.50 M238.05 350.30 v-6.50 M238.05 20.40 v6.50 M249.57 350.30 v-3.50 M249.57 20.40 v3.50 M261.09 350.30 v-3.50 M261.09 20.40 v3.50 M272.61 350.30 v-3.50 M272.61 20.40 v3.50 M284.12 350.30 v-3.50 M284.12 20.40 v3.50 M295.64 350.30 v-6.50 M295.64 20.40 v6.50 M307.16 350.30 v-3.50 M307.16 20.40 v3.50 M318.68 350.30 v-3.50 M318.68 20.40 v3.50 M330.19 350.30 v-3.50 M330.19 20.40 v3.50 M341.71 350.30 v-3.50 M341.71 20.40 v3.50 M353.23 350.30 v-6.50 M353.23 20.40 v6.50 M364.75 350.30 v-3.50 M364.75 20.40 v3.50 M376.27 350.30 v-3.50 M376.27 20.40 v3.50 M387.78 350.30 v-3.50 M387.78 20.40 v3.50 M399.30 350.30 v-3.50 M399.30 20.40 v3.50 M410.82 350.30 v-6.50 M410.82 20.40 v6.50 M422.34 350.30 v-3.50 M422.34 20.40 v3.50 M433.86 350.30 v-3.50 M433.86 20.40 v3.50 M445.37 350.30 v-3.50 M445.37 20.40 v3.50 M456.89 350.30 v-3.50 M456.89 20.40 v3.50 M468.41 350.30 v-6.50 M468.41 20.40 v6.50 M479.93 350.30 v-3.50 M479.93 20.40 v3.50 M491.45 350.30 v-3.50 M491.45 20.40 v3.50 M502.96 350.30 v-3.50 M502.96 20.40 v3.50 M514.48 350.30 v-3.50 M514.48 20.40 v3.50 M76.80 337.89 h3.50 M526.00 337.89 h-3.50 M76.80 330.62 h3.50 M526.00 330.62 h-3.50 M76.80 325.47 h3.50 M526.00 325.47 h-3.50 M76.80 321.48 h3.50 M526.00 321.48 h-3.50 M76.80 318.21 h3.50 M526.00 318.21 h-3.50 M76.80 315.45 h3.50 M526.00 315.45 h-3.50 M76.80 313.06 h3.50 M526.00 313.06 h-3.50 M76.80 310.95 h3.50 M526.00 310.95 h-3.50 M76.80 309.06 h6.50 M526.00 309.06 h-6.50 M76.80 296.65 h3.50 M526.00 296.65 h-3.50 M76.80 289.39 h3.50 M526.00 289.39 h-3.50 M76.80 284.24 h3.50 M526.00 284.24 h-3.50 M76.80 280.24 h3.50 M526.00 280.24 h-3.50 M76.80 276.97 h3.50 M526.00 276.97 h-3.50 M76.80 274.21 h3.50 M526.00 274.21 h-3.50 M76.80 271.82 h3.50 M526.00 271.82 h-3.50 M76.80 269.71 h3.50 M526.00 269.71 h-3.50 M76.80 267.82 h6.50 M526.00 267.82 h-6.50 M76.80 255.41 h3.50 M526.00 255.41 h-3.50 M76.80 248.15 h3.50 M526.00 248.15 h-3.50 M76.80 243.00 h3.50 M526.00 243.00 h-3.50 M76.80 239.00 h3.50 M526.00 239.00 h-3.50 M76.80 235.74 h3.50 M526.00 235.74 h-3.50 M76.80 232.98 h3.50 M526.00 232.98 h-3.50 M76.80 230.58 h3.50 M526.00 230.58 h-3.50 M76.80 228.47 h3.50 M526.00 228.47 h-3.50 M76.80 226.59 h6.50 M526.00 226.59 h-6.50 M76.80 214.17 h3.50 M526.00 214.17 h-3.50 M76.80 206.91 h3.50 M526.00 206.91 h-3.50 M76.80 201.76 h3.50 M526.00 201.76 h-3.50 M76.80 197.76 h3.50 M526.00 197.76 h-3.50 M76.80 194.50 h3.50 M526.00 194.50 h-3.50 M76.80 191.74 h3.50 M526.00 191.74 h-3.50 M76.80 189.35 h3.50 M526.00 189.35 h-3.50 M76.80 187.24 h3.50 M526.00 187.24 h-3.50 M76.80 185.35 h6.50 M526.00 185.35 h-6.50 M76.80 172.94 h3.50 M526.00 172.94 h-3.50 M76.80 165.67 h3.50 M526.00 165.67 h-3.50 M76.80 160.52 h3.50 M526.00 160.52 h-3.50 M76.80 156.53 h3.50 M526.00 156.53 h-3.50 M76.80 153.26 h3.50 M526.00 153.26 h-3.50 M76.80 150.50 h3.50 M526.00 150.50 h-3.50 M76.80 148.11 h3.50 M526.00 148.11 h-3.50 M76.80 146.00 h3.50 M526.00 146.00 h-3.50 M76.80 144.11 h6.50 M526.00 144.11 h-6.50 M76.80 131.70 h3.50 M526.00 131.70 h-3.50 M76.80 124.44 h3.50 M526.00 124.44 h-3.50 M76.80 119.29 h3.50 M526.00 119.29 h-3.50 M76.80 115.29 h3.50 M526.00 115.29 h-3.50 M76.80 112.02 h3.50 M526.00 112.02 h-3.50 M76.80 109.26 h3.50 M526.00 109.26 h-3.50 M76.80 106.87 h3.50 M526.00 106.87 h-3.50 M76.80 104.76 h3.50 M526.00 104.76 h-3.50 M76.80 102.88 h6.50 M526.00 102.88 h-6.50 M76.80 90.46 h3.50 M526.00 90.46 h-3.50 M76.80 83.20 h3.50 M526.00 83.20 h-3.50 M76.80 78.05 h3.50 M526.00 78.05 h-3.50 M76.80 74.05 h3.50 M526.00 74.05 h-3.50 M76.80 70.79 h3.50 M526.00 70.79 h-3.50 M76.80 68.03 h3.50 M526.00 68.03 h-3.50 M76.80 65.63 h3.50 M526.00 65.63 h-3.50 M76.80 63.52 h3.50 M526.00 63.52 h-3.50 M76.80 61.64 h6.50 M526.00 61.64 h-6.50 M76.80 49.22 h3.50 M526.00 49.22 h-3.50 M76.80 41.96 h3.50 M526.00 41.96 h-3.50 M76.80 36.81 h3.50 M526.00 36.81 h-3.50 M76.80 32.81 h3.50 M526.00 32.81 h-3.50 M76.80 29.55 h3.50 M526.00 29.55 h-3.50 M76.80 26.79 h3.50 M526.00 26.79 h-3.50 M76.80 24.40 h3.50 M526.00 24.40 h-3.50 M76.80 22.29 h3.50 M526.00 22.29 h-3.50" stroke="#000" stroke-width="1.5" fill="none"/>
<rect x="76.8" y="20.4" width="449.2" height="329.90000000000003" fill="none" stroke="#000" stroke-width="1.6"/>
<g class="tl"><text x="122.87" y="369" text-anchor="middle">500</text><text x="180.46" y="369" text-anchor="middle">1000</text><text x="238.05" y="369" text-anchor="middle">1500</text><text x="295.64" y="369" text-anchor="middle">2000</text><text x="353.23" y="369" text-anchor="middle">2500</text><text x="410.82" y="369" text-anchor="middle">3000</text><text x="468.41" y="369" text-anchor="middle">3500</text><text x="526.00" y="369" text-anchor="middle">4000</text><text x="70" y="355.80" text-anchor="end">10<tspan class="sup" dx="0.6" dy="-7.3">-5</tspan></text><text x="70" y="314.56" text-anchor="end">10<tspan class="sup" dx="0.6" dy="-7.3">-4</tspan></text><text x="70" y="273.32" text-anchor="end">10<tspan class="sup" dx="0.6" dy="-7.3">-3</tspan></text><text x="70" y="232.09" text-anchor="end">10<tspan class="sup" dx="0.6" dy="-7.3">-2</tspan></text><text x="70" y="190.85" text-anchor="end">10<tspan class="sup" dx="0.6" dy="-7.3">-1</tspan></text><text x="70" y="149.61" text-anchor="end">10<tspan class="sup" dx="0.6" dy="-7.3">0</tspan></text><text x="70" y="108.38" text-anchor="end">10<tspan class="sup" dx="0.6" dy="-7.3">1</tspan></text><text x="70" y="67.14" text-anchor="end">10<tspan class="sup" dx="0.6" dy="-7.3">2</tspan></text><text x="70" y="25.90" text-anchor="end">10<tspan class="sup" dx="0.6" dy="-7.3">3</tspan></text></g>
<text x="139.7" y="43.2" font-size="17.5" text-anchor="middle" fill="#111">cusp</text>
<text x="354.3" y="160.7" font-size="17.5" text-anchor="middle" fill="#111">BEE</text>
<text x="349" y="51" font-size="21" fill="#111">12.9 MeV B<tspan font-size="12" dy="-10">2+</tspan><tspan dy="10">+ H</tspan><tspan font-size="12.5" dy="7">2</tspan></text>
<rect x="311.5" y="61.5" width="200" height="70.5" fill="#fff" stroke="#777" stroke-width="1"/>
<g stroke-width="2.8" fill="none">
<path d="M317.6 70.8 H350.8" stroke="#1c16a8" stroke-width="2.6" stroke-dasharray="0 4.125" stroke-linecap="round"/>
<path d="M318 88.6 H350" stroke="#2b5a14" stroke-dasharray="3 7.4" stroke-linecap="round"/>
<path d="M316.9 106.3 H351.4" stroke="#fdeff9" stroke-width="11"/>
<path d="M316.9 106.3 H351.4" stroke="#9e2c1c" stroke-width="2.6"/>
<circle cx="334" cy="124" r="2.2" fill="#fff" stroke="#111" stroke-width="1"/>
</g>
<g font-size="14.5" fill="#111">
<text x="355" y="76.2">Target Ionization (TI)</text>
<text x="355" y="93.9">Projectile Ionization (PI)</text>
<text x="355" y="111.8">Total Ionization (TI+PI)</text>
<text x="355" y="129.6" xml:space="preserve">Experiment  (BEE)</text>
</g>
<text x="211.5" y="398.6" font-size="19.5" fill="#111">Electron Energy (eV)</text>
<text transform="translate(28.6 296.6) rotate(-90)" font-size="19" fill="#111">d<tspan font-size="12" dy="-8">2</tspan><tspan dy="8" font-family="Liberation Serif" font-size="20.5">σ/dEdΩ [10</tspan><tspan font-size="13" dy="-8.5" font-family="Liberation Serif">-20</tspan><tspan dy="8.5"> cm</tspan><tspan font-size="12" dy="-8">2</tspan><tspan dy="8">/(eV sr)]</tspan></text>
</svg>
</body></html>
